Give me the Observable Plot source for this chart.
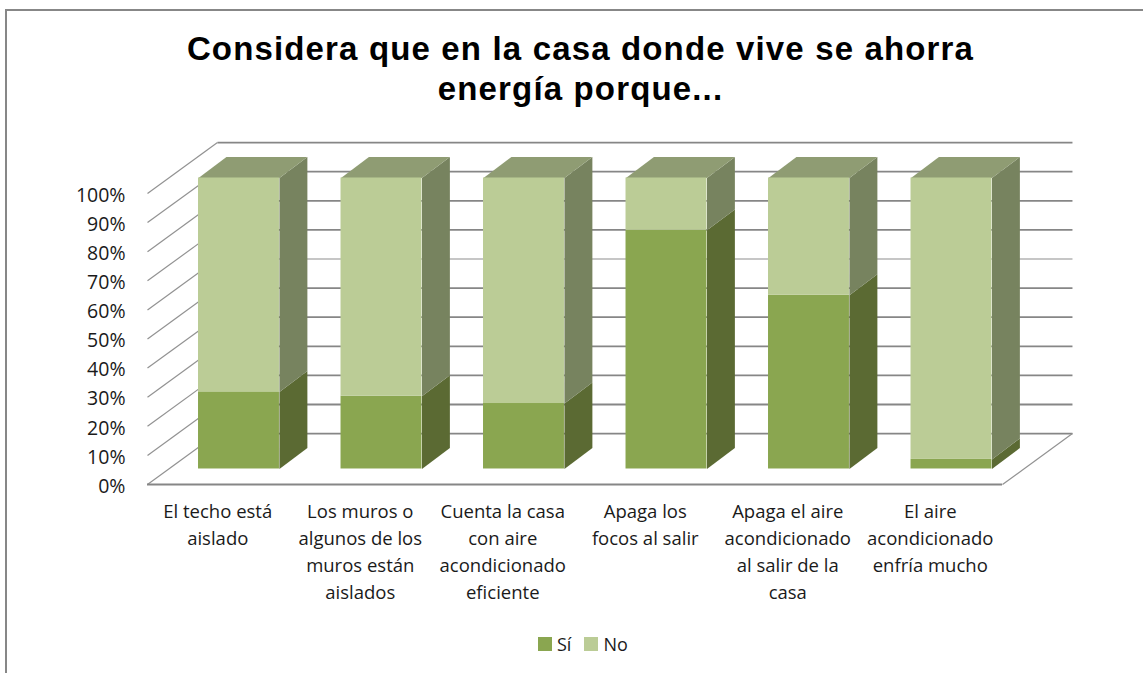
<!DOCTYPE html>
<html lang="es">
<head>
<meta charset="utf-8">
<script src="https://cdn.jsdelivr.net/npm/d3@7"></script>
<script src="https://cdn.jsdelivr.net/npm/@observablehq/plot@0.6"></script>
<style>
  html, body { margin: 0; padding: 0; background: #fff; overflow: hidden; }
  #frame { position: absolute; left: 5px; top: 9px; width: 1138px; height: 664px; border-top: 2px solid #878787; border-left: 2px solid #878787; box-sizing: border-box; }
  #page { position: absolute; left: 0; top: 0; width: 1143px; height: 673px; }
  #title { height: 120px; box-sizing: border-box; padding-top: 29px; text-align: center; font: bold 33px/40px "Liberation Sans", Arial, sans-serif; color: #000; letter-spacing: 1.15px; padding-left: 18px; }
  #chart svg { display: block; }
  #legend { display: flex; align-items: center; height: 30px; margin-top: 9px; padding-left: 538px; font: 18px "Open Sans", sans-serif; color: #1a1a1a; }
  #legend i { display: inline-block; width: 14px; height: 14px; margin-right: 5px; }
  #legend span { margin-right: 13px; }
</style>
</head>
<body>
<div id="frame"></div>
<div id="page">
  <div id="title">Considera que en la casa donde vive se ahorra<br>energía porque...</div>
  <div id="chart"></div>
  <div id="legend"></div>
</div>
<script>
const categories = [
  "El techo está\naislado",
  "Los muros o\nalgunos de los\nmuros están\naislados",
  "Cuenta la casa\ncon aire\nacondicionado\neficiente",
  "Apaga los\nfocos al salir",
  "Apaga el aire\nacondicionado\nal salir de la\ncasa",
  "El aire\nacondicionado\nenfría mucho"
];
const si = [26.5, 25, 22.5, 82, 59.7, 3.3];
const no = [73.5, 75, 77.5, 18, 40.3, 96.7];
const ticks = d3.range(0, 101, 10);
const serieNames = ["Sí", "No"];

const front = {"Sí": "#8aa650", "No": "#bbcc96"};
const side = {"Sí": "#5b6a33", "No": "#77835f"};
const topFace = "#8f9c73";

// Oblique 3D box: depth in scale units
const wallDx = 0.491, wallDy = 17.5;   // floor / wall depth
const barLeft = 0.358, barWidth = 0.568;
const barBaseY = 5.33;
const barDx = 0.196, barDy = 7.2;

const fronts = [], faces = [];
categories.forEach((c, i) => {
  const x1 = i + barLeft, x2 = x1 + barWidth;
  const segs = [["Sí", 0, si[i]], ["No", si[i], si[i] + no[i]]];
  for (const [s, a, b] of segs) {
    fronts.push({x1, x2, y1: barBaseY + a, y2: barBaseY + b, fill: front[s]});
    const id = `${i}-${s}`;
    const yA = barBaseY + a, yB = barBaseY + b;
    [[x2, yA], [x2 + barDx, yA + barDy], [x2 + barDx, yB + barDy], [x2, yB]]
      .forEach(([x, y]) => faces.push({id, x, y, fill: side[s]}));
  }
  const yT = barBaseY + si[i] + no[i];
  [[x1, yT], [x2, yT], [x2 + barDx, yT + barDy], [x1 + barDx, yT + barDy]]
    .forEach(([x, y]) => faces.push({id: `${i}-top`, x, y, fill: topFace}));
});

const n = categories.length;
const gridColor = t => t === 60 ? "#c6c6c6" : "#868686";

const plot = Plot.plot({
  width: 1143,
  height: 500,
  marginLeft: 147,
  marginRight: 141,
  marginTop: 73,
  marginBottom: 136,
  style: {fontFamily: "'Open Sans', sans-serif", fontSize: "18.5px", color: "#1a1a1a", background: "transparent"},
  x: {domain: [0, n], axis: null},
  y: {domain: [0, 100], axis: null},
  color: {type: "identity"},
  marks: [
    // back wall gridlines
    Plot.link(ticks, {x1: wallDx, x2: n + wallDx, y1: t => t + wallDy, y2: t => t + wallDy, stroke: gridColor, strokeWidth: 1.8}),
    // left wall gridlines
    Plot.link(ticks, {x1: 0, x2: wallDx, y1: t => t, y2: t => t + wallDy, stroke: "#929292", strokeWidth: 1.2}),
    // floor front and right edges
    Plot.ruleY([0], {x1: 0, x2: n, stroke: "#868686", strokeWidth: 1.8}),
    Plot.link([0], {x1: n, x2: n + wallDx, y1: 0, y2: wallDy, stroke: "#929292", strokeWidth: 1.2}),
    // bars
    Plot.line(faces, {x: "x", y: "y", z: "id", fill: "fill"}),
    Plot.rect(fronts, {x1: "x1", x2: "x2", y1: "y1", y2: "y2", fill: "fill"}),
    Plot.axisY(ticks, {tickSize: 0, tickPadding: 22, tickFormat: d => d + "%", fontSize: 19.5, dy: 2}),
    Plot.text(categories, {
      x: (d, i) => i + 0.5, y: 0, text: d => d,
      lineAnchor: "top", dx: -1, dy: 14, lineHeight: 1.47, textAnchor: "middle", fill: "#1a1a1a"
    })
  ]
});
document.getElementById("chart").append(plot);

const legend = document.getElementById("legend");
serieNames.forEach(s => {
  const sw = document.createElement("i");
  sw.style.background = front[s];
  const label = document.createElement("span");
  label.textContent = s;
  legend.append(sw, label);
});
</script>
</body>
</html>
